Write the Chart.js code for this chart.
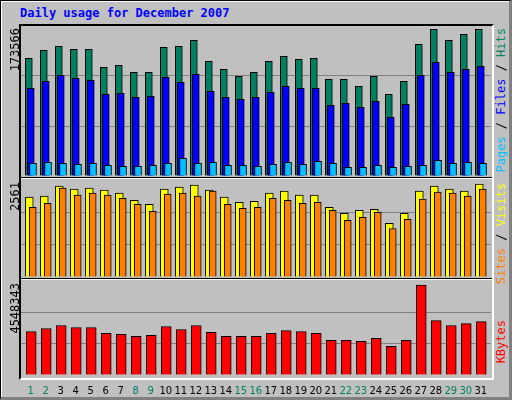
<!DOCTYPE html>
<html><head><meta charset="utf-8">
<script src="https://cdn.jsdelivr.net/npm/chart.js@4"></script>
<style>
body{margin:0;background:#fff}
#wrap{position:absolute;left:0;top:0;width:508px;height:396px;background:#c0c0c0;border:1px solid #000;border-right:3px solid #808080;border-bottom:3px solid #808080;box-shadow:inset 1px 1px 0 #fff}
#title{position:absolute;left:19px;top:5px;font:bold 12px "DejaVu Sans Mono",monospace;color:#0000ff}
#frame{position:absolute;left:18px;top:23px;width:471px;height:352px;border-top:2px solid #000;border-left:2px solid #000;border-right:2px solid #fff;border-bottom:2px solid #fff}
.sep{position:absolute;left:20px;width:471px;height:1px}
canvas{position:absolute}
.vl{position:absolute;writing-mode:vertical-rl;transform:rotate(180deg);font:12px "DejaVu Sans Mono",monospace;white-space:nowrap}
</style></head><body>
<div id="wrap">
<div id="title">Daily usage for December 2007</div>
<div id="frame"></div>
<div class="sep" style="top:176px;background:#000"></div><div class="sep" style="top:177px;background:#fff"></div>
<div class="sep" style="top:277px;background:#000"></div><div class="sep" style="top:278px;background:#fff"></div>
<canvas id="c1" width="470" height="150" style="left:20px;top:25px"></canvas>
<canvas id="c2" width="470" height="97" style="left:20px;top:179px"></canvas>
<canvas id="c3" width="470" height="114" style="left:20px;top:280px"></canvas>
<div class="vl" style="left:7px;top:27px;color:#000">173566</div>
<div class="vl" style="left:7px;top:181px;color:#000">2561</div>
<div class="vl" style="left:7px;top:282px;color:#000">4548343</div>
<div class="vl" style="left:493px;top:27px"><span style="color:#00c0ff">Pages</span> / <span style="color:#0000ff">Files</span> / <span style="color:#008060">Hits</span></div>
<div class="vl" style="left:493px;top:182px"><span style="color:#ff8000">Sites</span> / <span style="color:#ffff00">Visits</span></div>
<div class="vl" style="left:493px;top:319px;color:#ff0000">KBytes</div>
</div>
<script>
const days=[1,2,3,4,5,6,7,8,9,10,11,12,13,14,15,16,17,18,19,20,21,22,23,24,25,26,27,28,29,30,31];
const weekend=[1,2,8,9,15,16,22,23,29,30];
const hits=[136200,145400,150100,146600,146600,125800,128100,120000,120000,148900,150100,157000,132700,123500,115400,120000,132700,138500,135000,136200,111900,111900,103800,115400,94500,109600,152400,169700,157000,164000,169700];
const files=[101500,109600,116500,113000,110700,94500,95700,91100,92200,114200,108400,117700,98000,91100,88700,91100,96800,103800,101500,101500,81800,84100,79500,86400,67900,83000,116500,131500,120000,123500,126900];
const pages=[14700,15900,14700,13500,14700,12400,11200,11200,12400,14700,20500,14700,15900,12400,12400,11200,13500,15900,13500,17000,14700,10100,10100,12400,10100,11200,12400,18200,14700,15900,14700];
const visits=[2107,2134,2400,2320,2347,2294,2214,2027,1920,2320,2374,2427,2294,2107,1974,2000,2214,2267,2160,2160,1840,1680,1760,1787,1414,1680,2267,2400,2320,2267,2454];
const sites=[1840,1947,2347,2160,2214,2160,2080,1920,1734,2187,2214,2134,2267,1920,1814,1840,2080,2027,1947,1974,1760,1494,1574,1707,1280,1520,2054,2240,2214,2134,2320];
const kbytes=[2106600,2250200,2393900,2298100,2298100,2010800,1963000,1867200,1915100,2346000,2202300,2393900,2058700,1867200,1867200,1867200,2010800,2154500,2106600,2010800,1675700,1675700,1627800,1771400,1388400,1675700,4356800,2633200,2393900,2489600,2585400];
const maxHits=173566,maxVisits=2561,maxKB=4548343;

function ds(vals,color,off,w,ord){return{data:vals.map((v,i)=>({x:days[i]+off,y:v})),backgroundColor:color,borderColor:'#000',borderWidth:1,barThickness:w,grouped:false,borderSkipped:'bottom',order:ord};}
function make(id,sets,max,showX){
  const x={type:'linear',offset:false,min:0.35,max:31.68,display:showX,grid:{display:false,offset:false},border:{display:false},
         afterBuildTicks:s=>{s.ticks=days.map(v=>({value:v}));},
         ticks:{autoSkip:false,maxRotation:0,minRotation:0,padding:2,font:{family:'DejaVu Sans',size:10},
           color:c=>weekend.includes(c.tick.value)?'#008060':'#000',callback:v=>String(v)}};
  if(showX) x.afterFit=s=>{s.height=20;};
  new Chart(document.getElementById(id),{type:'bar',data:{datasets:sets},
  options:{responsive:false,animation:false,devicePixelRatio:1,layout:{padding:0},
    plugins:{legend:{display:false},tooltip:{enabled:false}},
    scales:{x:x,
      y:{min:0,max:max,afterFit:s=>{s.width=0;},border:{display:false},
         ticks:{display:false,stepSize:max/3},
         grid:{drawTicks:false,color:c=>(c.index==1||c.index==2)?'#808080':'rgba(0,0,0,0)',lineWidth:1}}
    }}});
}
make('c1',[ds(hits,'#008060',-0.13,7,3),ds(files,'#0000ff',0,7,2),ds(pages,'#00c0ff',0.15,7,1)],maxHits,false);
make('c2',[ds(visits,'#ffff00',-0.1,8,2),ds(sites,'#ff8000',0.13,7,1)],maxVisits,false);
make('c3',[ds(kbytes,'#ff0000',0.03,10,1)],maxKB,true);
</script>
</body></html>
